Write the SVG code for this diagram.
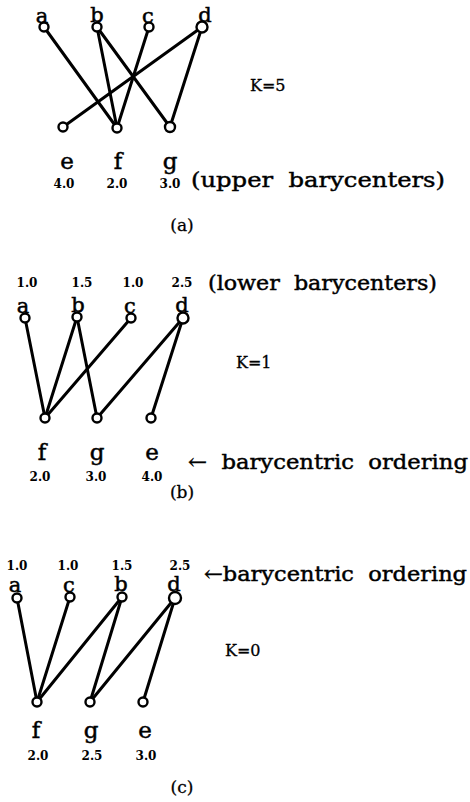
<svg xmlns="http://www.w3.org/2000/svg" width="470" height="802" viewBox="0 0 470 802">
  <style>
    .bg { fill: #ffffff; }
    .edge { stroke: #000; stroke-width: 3; stroke-linecap: round; fill: none; }
    .node { fill: #fff; stroke: #000; stroke-width: 2.4; }
    .lbl { font-family: "DejaVu Serif", "Liberation Serif", serif; font-size: 21px; fill: #000; stroke: #000; stroke-width: 0.5; text-anchor: middle; }
    .lbl2 { font-family: "DejaVu Serif", "Liberation Serif", serif; font-size: 23px; fill: #000; stroke: #000; stroke-width: 0.5; text-anchor: middle; }
    .num { font-family: "DejaVu Serif", "Liberation Serif", serif; font-size: 12px; font-weight: bold; fill: #000; text-anchor: middle; }
    .note { font-family: "DejaVu Serif", "Liberation Serif", serif; font-size: 21px; fill: #000; stroke: #000; stroke-width: 0.45; white-space: pre; }
    .k { font-family: "DejaVu Serif", "Liberation Serif", serif; font-size: 16px; fill: #000; stroke: #000; stroke-width: 0.3; }
    .cap { font-family: "DejaVu Serif", "Liberation Serif", serif; font-size: 17px; fill: #000; stroke: #000; stroke-width: 0.3; text-anchor: middle; }
  </style>
  <rect class="bg" x="0" y="0" width="470" height="802"/>

  <!-- connectors -->
  <g id="connectors">
    <!-- (a) -->
    <line class="edge" x1="44" y1="27" x2="117" y2="128"/>
    <line class="edge" x1="97" y1="27" x2="117" y2="128"/>
    <line class="edge" x1="97" y1="27" x2="170" y2="127"/>
    <line class="edge" x1="149" y1="27" x2="117" y2="128"/>
    <line class="edge" x1="202" y1="27" x2="63" y2="127"/>
    <line class="edge" x1="202" y1="27" x2="170" y2="127"/>
    <!-- (b) -->
    <line class="edge" x1="25" y1="318" x2="45" y2="418"/>
    <line class="edge" x1="77" y1="317" x2="45" y2="418"/>
    <line class="edge" x1="77" y1="317" x2="97" y2="418"/>
    <line class="edge" x1="131" y1="318" x2="45" y2="418"/>
    <line class="edge" x1="183" y1="318" x2="97" y2="418"/>
    <line class="edge" x1="183" y1="318" x2="151" y2="418"/>
    <!-- (c) -->
    <line class="edge" x1="17" y1="598" x2="37" y2="702"/>
    <line class="edge" x1="70" y1="597" x2="37" y2="702"/>
    <line class="edge" x1="122" y1="597" x2="37" y2="702"/>
    <line class="edge" x1="122" y1="597" x2="90" y2="702"/>
    <line class="edge" x1="175" y1="598" x2="90" y2="702"/>
    <line class="edge" x1="175" y1="598" x2="143" y2="702"/>
  </g>

  <!-- (a) upper layer -->
  <g id="a1"><text class="lbl" x="42" y="23">a</text><circle class="node" cx="44" cy="27" r="4.5"/></g>
  <g id="b1"><text class="lbl" x="97" y="22">b</text><circle class="node" cx="97" cy="27" r="4.5"/></g>
  <g id="c1"><text class="lbl" x="148" y="23">c</text><circle class="node" cx="149" cy="27" r="4.5"/></g>
  <g id="d1"><text class="lbl" x="205" y="22">d</text><circle class="node" cx="202" cy="27" r="5.5"/></g>
  <!-- (a) lower layer -->
  <g id="e1"><circle class="node" cx="63" cy="127" r="4.5"/><text class="lbl2" x="67" y="169">e</text><text class="num" x="64" y="188">4.0</text></g>
  <g id="f1"><circle class="node" cx="117" cy="128" r="4.5"/><text class="lbl2" x="118" y="169">f</text><text class="num" x="117" y="188">2.0</text></g>
  <g id="g1"><circle class="node" cx="170" cy="127" r="5"/><text class="lbl2" x="170" y="169">g</text><text class="num" x="170" y="188">3.0</text></g>
  <text class="k" x="250" y="91">K=5</text>
  <text class="note" x="191" y="187" textLength="254" lengthAdjust="spacingAndGlyphs">(upper  barycenters)</text>
  <text class="cap" x="182" y="231">(a)</text>

  <!-- (b) upper layer -->
  <g id="a2"><text class="num" x="27" y="287">1.0</text><text class="lbl" x="23" y="313">a</text><circle class="node" cx="25" cy="318" r="4.5"/></g>
  <g id="b2"><text class="num" x="82" y="287">1.5</text><text class="lbl" x="78" y="312">b</text><circle class="node" cx="77" cy="317" r="4.5"/></g>
  <g id="c2"><text class="num" x="133" y="287">1.0</text><text class="lbl" x="130" y="313">c</text><circle class="node" cx="131" cy="318" r="4.5"/></g>
  <g id="d2"><text class="num" x="182" y="287">2.5</text><text class="lbl" x="182" y="312">d</text><circle class="node" cx="183" cy="318" r="5.5"/></g>
  <!-- (b) lower layer -->
  <g id="f2"><circle class="node" cx="45" cy="418" r="4.5"/><text class="lbl2" x="42" y="460">f</text><text class="num" x="40" y="481">2.0</text></g>
  <g id="g2"><circle class="node" cx="97" cy="418" r="4.5"/><text class="lbl2" x="97" y="460">g</text><text class="num" x="96" y="481">3.0</text></g>
  <g id="e2"><circle class="node" cx="151" cy="418" r="4.5"/><text class="lbl2" x="152" y="460">e</text><text class="num" x="152" y="481">4.0</text></g>
  <text class="note" x="208" y="290" textLength="229" lengthAdjust="spacingAndGlyphs">(lower  barycenters)</text>
  <text class="k" x="236" y="368">K=1</text>
  <text class="note" x="188" y="469" textLength="280" lengthAdjust="spacingAndGlyphs">←  barycentric  ordering</text>
  <text class="cap" x="182" y="498">(b)</text>

  <!-- (c) upper layer -->
  <g id="a3"><text class="num" x="17" y="570">1.0</text><text class="lbl" x="15" y="592">a</text><circle class="node" cx="17" cy="598" r="4.5"/></g>
  <g id="c3"><text class="num" x="68" y="570">1.0</text><text class="lbl" x="69" y="592">c</text><circle class="node" cx="70" cy="597" r="4.5"/></g>
  <g id="b3"><text class="num" x="122" y="570">1.5</text><text class="lbl" x="121" y="591">b</text><circle class="node" cx="122" cy="597" r="4.5"/></g>
  <g id="d3"><text class="num" x="180" y="570">2.5</text><text class="lbl" x="174" y="591">d</text><circle class="node" cx="175" cy="598" r="6"/></g>
  <!-- (c) lower layer -->
  <g id="f3"><circle class="node" cx="37" cy="702" r="4.5"/><text class="lbl2" x="36" y="738">f</text><text class="num" x="38" y="760">2.0</text></g>
  <g id="g3"><circle class="node" cx="90" cy="702" r="4.5"/><text class="lbl2" x="91" y="738">g</text><text class="num" x="92" y="760">2.5</text></g>
  <g id="e3"><circle class="node" cx="143" cy="702" r="4.5"/><text class="lbl2" x="145" y="738">e</text><text class="num" x="146" y="760">3.0</text></g>
  <text class="note" x="204" y="581" textLength="263" lengthAdjust="spacingAndGlyphs">←barycentric  ordering</text>
  <text class="k" x="225" y="656">K=0</text>
  <text class="cap" x="182" y="793">(c)</text>
</svg>
